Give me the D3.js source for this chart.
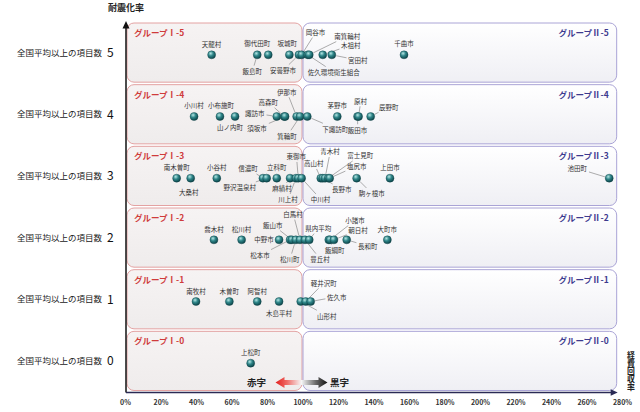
<!DOCTYPE html>
<html>
<head>
<meta charset="utf-8">
<script src="https://cdn.jsdelivr.net/npm/d3@7"></script>
<style>
  body { margin: 0; background: #fff; }
  svg { display: block; }
  text { font-family: "Noto Sans CJK JP", "Noto Sans", sans-serif; }
</style>
</head>
<body>
<div id="chart"></div>
<script>
// data: name, 経費回収率 (%), 全国平均以上の項目数
const municipalities = [
  "天龍村", "飯島町", "御代田町", "坂城町", "安曇野市", "岡谷市", "佐久環境衛生組合", "南箕輪村", "木祖村", "宮田村", "千曲市",
  "小川村", "小布施町", "山ノ内町", "諏訪市", "高森町", "須坂市", "伊那市", "箕輪町", "下諏訪町", "茅野市", "原村", "飯田市", "辰野町",
  "南木曽町", "大桑村", "小谷村", "信濃町", "野沢温泉村", "立科町", "麻績村", "川上村", "東御市", "中川村", "高山村", "長野市", "青木村", "富士見町", "塩尻市", "駒ヶ根市", "上田市", "池田町",
  "喬木村", "松川村", "中野市", "松本市", "飯山市", "松川町", "白馬村", "豊丘村", "県内平均", "飯綱町", "小諸市", "朝日村", "長和町", "大町市",
  "南牧村", "木曽町", "阿智村", "木島平村", "山形村", "軽井沢町", "佐久市",
  "上松町"
];
const recoveryRate = [
  48.8, 74.5, 80.7, 92.6, 98.0, 99.5, 103.0, 103.8, 111.4, 116.5, 157.2,
  38.9, 53.5, 62.0, 85.5, 89.7, 90.2, 96.7, 98.6, 102.7, 119.6, 131.6, 131.0, 138.4,
  29.1, 37.0, 51.7, 77.7, 79.8, 85.5, 93.0, 96.3, 97.6, 99.5, 110.3, 111.4, 112.7, 114.5, 115.3, 130.5, 149.3, 272.8,
  50.1, 65.7, 86.8, 93.0, 94.0, 96.2, 98.6, 101.4, 103.8, 114.8, 115.5, 117.7, 124.9, 147.8,
  40.0, 58.8, 74.5, 86.8, 99.0, 101.8, 104.6,
  70.8
];
const aboveAvgCount = [
  5, 5, 5, 5, 5, 5, 5, 5, 5, 5, 5,
  4, 4, 4, 4, 4, 4, 4, 4, 4, 4, 4, 4, 4,
  3, 3, 3, 3, 3, 3, 3, 3, 3, 3, 3, 3, 3, 3, 3, 3, 3, 3,
  2, 2, 2, 2, 2, 2, 2, 2, 2, 2, 2, 2, 2, 2,
  1, 1, 1, 1, 1, 1, 1,
  0
];
const rowCounts = [5, 4, 3, 2, 1, 0];
const rowLabel = "全国平均以上の項目数";
const xTicks = [0, 20, 40, 60, 80, 100, 120, 140, 160, 180, 200, 220, 240, 260, 280];
const leftGroup = "グループⅠ-";
const rightGroup = "グループⅡ-";

// label placement: offset of label centre from the dot, and whether a leader line is drawn
const labelPos = {
  "天龍村": [0, -10, 0], "飯島町": [-5, 17, 1], "御代田町": [-11, -11, 0], "坂城町": [-2, -11, 0],
  "安曇野市": [-16, 16, 1], "岡谷市": [14, -22, 1], "佐久環境衛生組合": [26, 18, 1], "南箕輪村": [38, -18, 1],
  "木祖村": [28, -9, 1], "宮田村": [26, 6, 1], "千曲市": [0, -11, 0],
  "小川村": [0, -11, 0], "小布施町": [1, -11, 0], "山ノ内町": [-5, 11.5, 0], "諏訪市": [-22, -2.5, 1],
  "高森町": [-16, -13.5, 1], "須坂市": [-28, 12.5, 1], "伊那市": [-10, -24, 1], "箕輪町": [-13, 20, 1],
  "下諏訪町": [28, 13, 1], "茅野市": [0, -11, 0], "原村": [2, -15, 1], "飯田市": [0, 14, 1], "辰野町": [18, -9, 1],
  "南木曽町": [0, -10, 0], "大桑村": [-2, 15, 0], "小谷村": [0, -10, 0], "信濃町": [-15, -9, 1],
  "野沢温泉村": [-27, 10, 1], "立科町": [0, -10, 0], "麻績村": [-8, 11, 1], "川上村": [-8, 22, 1],
  "東御市": [-2, -21, 1], "中川村": [19, 22, 1], "高山村": [-7, -14, 1], "長野市": [19, 12, 1],
  "青木村": [5, -26, 1], "富士見町": [32, -22, 1], "塩尻市": [27, -11.5, 1], "駒ヶ根市": [15, 16, 1],
  "上田市": [0, -10, 0], "池田町": [-32, -9, 1],
  "喬木村": [0, -10, 0], "松川村": [0, -10, 0], "中野市": [-15, 0, 0], "松本市": [-30, 16, 1],
  "飯山市": [-19, -14, 1], "松川町": [-6, 20, 1], "白馬村": [-7, -25, 1], "豊丘村": [15, 20, 1],
  "県内平均": [9, -11, 1], "飯綱町": [6, 11, 1], "小諸市": [25, -19, 1], "朝日村": [24, -9, 1],
  "長和町": [21, 7, 1], "大町市": [0, -10, 0],
  "南牧村": [0, -10, 0], "木曽町": [0, -10, 0], "阿智村": [0, -10, 0], "木島平村": [0, 12, 0],
  "山形村": [26, 15, 1], "軽井沢町": [18, -18, 1], "佐久市": [26, -4, 1],
  "上松町": [0, -10, 0]
};

const width = 640, height = 412;
const svg = d3.select("#chart").append("svg")
  .attr("width", width)
  .attr("height", height);

const x = d3.scaleLinear().domain([0, 280]).range([125, 622]);
const y = d3.scaleBand().domain(rowCounts).range([22, 392]);
const dotY = r => y(r) + y.bandwidth() / 2 + 2;

const defs = svg.append("defs");
const leftFill = defs.append("linearGradient").attr("id", "leftFill")
  .attr("x1", 0).attr("y1", 0).attr("x2", 0).attr("y2", 1);
leftFill.append("stop").attr("offset", "0%").attr("stop-color", "#f6f3f3");
leftFill.append("stop").attr("offset", "100%").attr("stop-color", "#efecec");
const rightFill = defs.append("linearGradient").attr("id", "rightFill")
  .attr("x1", 0).attr("y1", 0).attr("x2", 0).attr("y2", 1);
rightFill.append("stop").attr("offset", "0%").attr("stop-color", "#ffffff");
rightFill.append("stop").attr("offset", "100%").attr("stop-color", "#efeff4");
const ball = defs.append("radialGradient").attr("id", "ball")
  .attr("cx", "38%").attr("cy", "32%").attr("r", "70%");
ball.append("stop").attr("offset", "0%").attr("stop-color", "#b5e6e4");
ball.append("stop").attr("offset", "45%").attr("stop-color", "#2f8689");
ball.append("stop").attr("offset", "100%").attr("stop-color", "#0b4247");

// group boxes
const boxes = svg.append("g");
rowCounts.forEach(r => {
  const top = y(r) + 1, h = y.bandwidth() - 2.5;
  boxes.append("rect")
    .attr("x", x(0) + 2).attr("y", top)
    .attr("width", x(100) - x(0) - 2.5).attr("height", h)
    .attr("rx", 7)
    .attr("fill", "url(#leftFill)")
    .attr("stroke", "#e3a2a2").attr("stroke-width", 1);
  boxes.append("rect")
    .attr("x", x(100) + 0.5).attr("y", top)
    .attr("width", x(277) - x(100) - 0.5).attr("height", h)
    .attr("rx", 7)
    .attr("fill", "url(#rightFill)")
    .attr("stroke", "#aaa4d6").attr("stroke-width", 1);
  boxes.append("text")
    .attr("x", x(0) + 9).attr("y", top + 13)
    .attr("font-size", 8.5).attr("font-weight", "bold")
    .attr("fill", "#cf3b3b")
    .text(leftGroup + r);
  boxes.append("text")
    .attr("x", x(277) - 8).attr("y", top + 13)
    .attr("text-anchor", "end")
    .attr("font-size", 8.5).attr("font-weight", "bold")
    .attr("fill", "#3d3a8e")
    .text(rightGroup + r);
});

// row labels on the left
const rowText = svg.append("g");
rowCounts.forEach(r => {
  const cy = y(r) + y.bandwidth() / 2;
  rowText.append("text")
    .attr("x", 102).attr("y", cy).attr("dy", "0.35em")
    .attr("text-anchor", "end")
    .attr("font-size", 8.5).attr("fill", "#222")
    .text(rowLabel);
  rowText.append("text")
    .attr("x", 107).attr("y", cy).attr("dy", "0.36em")
    .attr("font-family", "Liberation Sans, Arial, sans-serif")
    .attr("font-size", 12).attr("fill", "#111")
    .text(r);
});

// axes
const axisY = y.range()[1] + 0.5;
svg.append("line")
  .attr("x1", x(0) + 1).attr("y1", axisY)
  .attr("x2", x(0) + 1).attr("y2", 27)
  .attr("stroke", "#111").attr("stroke-width", 1.5);
svg.append("path")
  .attr("d", `M${x(0) + 1},21 L${x(0) - 2.5},28.5 L${x(0) + 4.5},28.5 Z`)
  .attr("fill", "#111");
svg.append("line")
  .attr("x1", x(0) + 1).attr("y1", axisY)
  .attr("x2", x(277) - 4).attr("y2", axisY)
  .attr("stroke", "#2a2a55").attr("stroke-width", 1.3);
svg.append("path")
  .attr("d", `M${x(277) + 1},${axisY} L${x(277) - 6},${axisY - 3.2} L${x(277) - 6},${axisY + 3.2} Z`)
  .attr("fill", "#2a2a55");

const xAxis = svg.append("g")
  .attr("transform", `translate(0,${axisY})`)
  .call(d3.axisBottom(x).tickValues(xTicks).tickFormat(d => d + "%").tickSize(0).tickPadding(8));
xAxis.select(".domain").remove();
xAxis.selectAll("text")
  .attr("font-family", "Liberation Sans, Arial, sans-serif")
  .attr("font-size", 7).attr("font-weight", "bold").attr("fill", "#333");

svg.append("text")
  .attr("x", x(0) + 1).attr("y", 11)
  .attr("text-anchor", "middle")
  .attr("font-size", 9).attr("font-weight", "bold").attr("fill", "#222")
  .text("耐震化率");

// vertical x-axis title
svg.append("text")
  .attr("x", 631).attr("y", 351)
  .style("writing-mode", "vertical-rl")
  .attr("font-size", 7.9).attr("font-weight", "bold").attr("fill", "#222")
  .text("経費回収率");

// 赤字 / 黒字 arrow
const ac = x(100), ay = y(0) + y.bandwidth() - 9.5;
const aL = ac - 27, aR = ac + 25;
const arrowGrad = defs.append("linearGradient").attr("id", "arrowGrad")
  .attr("gradientUnits", "userSpaceOnUse")
  .attr("x1", aL).attr("y1", 0).attr("x2", aR).attr("y2", 0);
arrowGrad.append("stop").attr("offset", "0%").attr("stop-color", "#e3201f");
arrowGrad.append("stop").attr("offset", "22%").attr("stop-color", "#ef6a66");
arrowGrad.append("stop").attr("offset", "50%").attr("stop-color", "#f6f6f6");
arrowGrad.append("stop").attr("offset", "78%").attr("stop-color", "#666");
arrowGrad.append("stop").attr("offset", "100%").attr("stop-color", "#111");
svg.append("path")
  .attr("d", `M${aL},${ay} L${aL + 9},${ay - 5.5} L${aL + 9},${ay - 2.5} L${aR - 9},${ay - 2.5} L${aR - 9},${ay - 5.5} L${aR},${ay} L${aR - 9},${ay + 5.5} L${aR - 9},${ay + 2.5} L${aL + 9},${ay + 2.5} L${aL + 9},${ay + 5.5} Z`)
  .attr("fill", "url(#arrowGrad)");
svg.append("text")
  .attr("x", ac - 46).attr("y", ay).attr("dy", "0.35em")
  .attr("text-anchor", "middle")
  .attr("font-size", 9.5).attr("font-weight", "bold").attr("fill", "#222")
  .text("赤字");
svg.append("text")
  .attr("x", ac + 37).attr("y", ay).attr("dy", "0.35em")
  .attr("text-anchor", "middle")
  .attr("font-size", 9.5).attr("font-weight", "bold").attr("fill", "#222")
  .text("黒字");

// points
const points = municipalities.map((name, i) => ({
  name: name,
  rate: recoveryRate[i],
  count: aboveAvgCount[i],
  px: x(recoveryRate[i]),
  py: dotY(aboveAvgCount[i]),
  pos: labelPos[name] || [0, -10, 0]
}));

const leaderG = svg.append("g");
const dotG = svg.append("g");
const labelG = svg.append("g");

const labels = labelG.selectAll("text")
  .data(points)
  .join("text")
  .attr("x", d => d.px + d.pos[0])
  .attr("y", d => d.py + d.pos[1])
  .attr("dy", "0.35em")
  .attr("text-anchor", "middle")
  .attr("font-size", 6.5)
  .attr("fill", "#333")
  .text(d => d.name);

labels.each(function (d) {
  if (!d.pos[2]) return;
  const b = this.getBBox();
  const cx = b.x + b.width / 2, cy = b.y + b.height / 2;
  const vx = cx - d.px, vy = cy - d.py;
  const hw = b.width / 2 + 1.5, hh = b.height / 2 + 0.5;
  const t = Math.min(vx ? hw / Math.abs(vx) : Infinity, vy ? hh / Math.abs(vy) : Infinity);
  if (t >= 1) return;
  const len = Math.hypot(vx, vy);
  leaderG.append("line")
    .attr("x1", d.px + vx / len * 4.5)
    .attr("y1", d.py + vy / len * 4.5)
    .attr("x2", cx - vx * t)
    .attr("y2", cy - vy * t)
    .attr("stroke", "#8a8a8a")
    .attr("stroke-width", 0.7);
});

dotG.selectAll("circle")
  .data(points.slice().sort((a, b) => a.rate - b.rate))
  .join("circle")
  .attr("cx", d => d.px)
  .attr("cy", d => d.py)
  .attr("r", 4)
  .attr("fill", "url(#ball)")
  .attr("stroke", "#0d3f44")
  .attr("stroke-width", 0.4);
</script>
</body>
</html>
